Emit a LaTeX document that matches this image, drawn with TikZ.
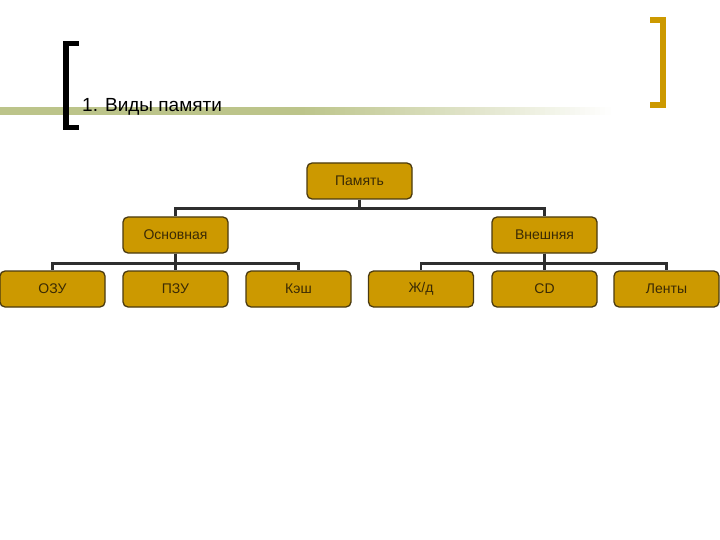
\documentclass[tikz,border=0pt]{standalone}
\usepackage{fontspec}
\setmainfont{Liberation Sans}
\begin{document}
\begin{tikzpicture}[x=1pt,y=-1pt,
  box/.style={draw=boxline, line width=1.3pt, fill=boxfill, rounded corners=5pt,
    minimum width=105pt, minimum height=36pt, inner sep=0pt, font=\fontsize{14}{16}\selectfont, text=boxtext},
  conn/.style={draw=connline, line width=2.4pt}]
\definecolor{boxfill}{HTML}{CC9900}
\definecolor{boxline}{HTML}{4A3A10}
\definecolor{boxtext}{HTML}{3A2A05}
\definecolor{connline}{HTML}{2E2E2E}
\definecolor{barcol}{HTML}{BCC48A}
\definecolor{gold}{HTML}{CC9900}
\useasboundingbox (0,0) rectangle (720,540);
\fill[white] (0,0) rectangle (720,540);
% gradient bar
\fill[barcol] (0,107) rectangle (300,115);
\foreach \i in {0,...,61} {
  \pgfmathsetmacro{\p}{100-\i*100/62}
  \fill[barcol!\p!white] ({300+\i*5},107) rectangle ({305.6+\i*5},115);
}
% left bracket
\fill[black] (63,41) rectangle (69,130);
\fill[black] (63,41) rectangle (79,46);
\fill[black] (63,125) rectangle (79,130);
% right bracket
\fill[gold] (660,17) rectangle (666,108);
\fill[gold] (650,17) rectangle (666,23);
\fill[gold] (650,102) rectangle (666,108);
% title
\node[anchor=base west, inner sep=0pt, font=\fontsize{19}{22}\selectfont] (title) at (82,112) {1. Виды памяти};
% nodes
\node[box] (mem) at (359.5,181) {Память};
\node[box] (main) at (175.5,235) {Основная};
\node[box] (ext) at (544.5,235) {Внешняя};
\node[box] (ozu) at (52.5,289) {ОЗУ};
\node[box] (pzu) at (175.5,289) {ПЗУ};
\node[box] (kesh) at (298.5,289) {Кэш};
\node[box] (hdd) at (421,289) {Ж/д};
\node[box] (cd) at (544.5,289) {CD};
\node[box] (tape) at (666.5,289) {Ленты};
% connectors
\draw[conn] (mem.south) -- ++(0,9) -| (main.north);
\draw[conn] (mem.south) -- ++(0,9) -| (ext.north);
\draw[conn] (main.south) -- ++(0,10) -| (ozu.north);
\draw[conn] (main.south) -- (pzu.north);
\draw[conn] (main.south) -- ++(0,10) -| (kesh.north);
\draw[conn] (ext.south) -- ++(0,10) -| (hdd.north);
\draw[conn] (ext.south) -- (cd.north);
\draw[conn] (ext.south) -- ++(0,10) -| (tape.north);
\end{tikzpicture}
\end{document}
